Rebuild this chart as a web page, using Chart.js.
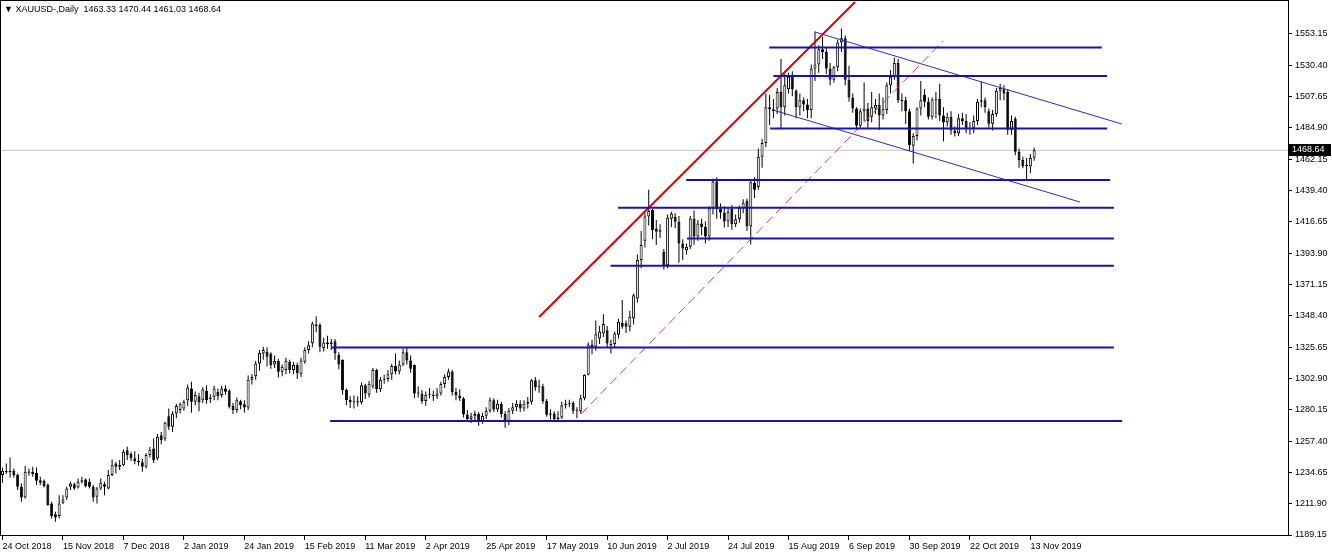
<!DOCTYPE html>
<html><head><meta charset="utf-8">
<script src="https://cdn.jsdelivr.net/npm/chart.js@4/dist/chart.umd.min.js"></script>
<style>
html,body{margin:0;padding:0;background:#fff;}
#wrap{position:relative;width:1332px;height:555px;overflow:hidden;}
#hdr{position:absolute;left:4px;top:3px;font:9px "Liberation Sans",Arial,sans-serif;color:#000;white-space:pre;line-height:12px;}
canvas{display:block}
</style></head><body>
<div id="wrap"><canvas id="c" width="1332" height="555"></canvas><div id="hdr">▼ XAUUSD-,Daily  1463.33 1470.44 1461.03 1468.64</div></div>
<script>
// ---------------- data ----------------
const dateLabels = ["24 Oct 2018","15 Nov 2018","7 Dec 2018","2 Jan 2019","24 Jan 2019","15 Feb 2019","11 Mar 2019","2 Apr 2019","25 Apr 2019","17 May 2019","10 Jun 2019","2 Jul 2019","24 Jul 2019","15 Aug 2019","6 Sep 2019","30 Sep 2019","22 Oct 2019","13 Nov 2019"];
const barsPerLabel = 16;
const priceTicks = [1553.15,1530.40,1507.65,1484.90,1462.15,1439.40,1416.65,1393.90,1371.15,1348.40,1325.65,1302.90,1280.15,1257.40,1234.65,1211.90,1189.15];

const openP = [
1232.7,1235.8,1234.8,1235.8,1232.7,1224.2,1216.4,1234.4,1235.1,1234.4,
1229.0,1228.6,1225.4,1212.1,1204.3,1202.9,1212.6,1216.4,1224.2,1226.0,
1223.7,1227.8,1229.5,1227.8,1224.2,1216.9,1223.0,1226.1,1223.0,1232.7,
1241.1,1238.7,1239.9,1250.8,1248.0,1245.0,1243.0,1242.0,1238.7,1247.2,
1252.0,1244.8,1261.7,1259.0,1275.5,1267.8,1277.4,1279.9,1281.0,1287.1,
1295.6,1285.9,1290.0,1287.1,1294.0,1288.0,1289.6,1293.0,1290.8,1295.6,
1293.9,1282.8,1279.9,1286.4,1284.2,1281.8,1302.0,1304.5,1313.8,1321.0,
1322.3,1321.0,1313.0,1315.5,1307.8,1309.0,1315.0,1309.0,1312.6,1306.0,
1315.0,1323.5,1328.4,1342.0,1341.7,1325.0,1329.0,1328.0,1330.0,1320.0,
1316.3,1294.5,1287.2,1285.6,1286.4,1285.5,1298.0,1291.0,1297.0,1309.0,
1295.0,1302.0,1302.5,1306.0,1312.0,1308.0,1313.0,1322.0,1316.0,1312.6,
1292.0,1292.0,1286.5,1291.0,1291.0,1290.0,1292.0,1298.8,1304.0,1308.0,
1293.0,1290.5,1288.4,1276.7,1273.5,1275.5,1277.0,1271.3,1275.8,1279.5,
1287.0,1280.3,1284.5,1277.0,1271.0,1279.5,1282.0,1284.5,1281.0,1284.5,
1286.0,1301.5,1296.5,1297.3,1286.5,1276.5,1277.5,1273.3,1274.5,1283.5,
1284.5,1285.0,1279.5,1279.0,1288.5,1305.5,1327.5,1326.0,1332.0,1335.6,
1338.0,1328.0,1328.0,1334.6,1343.4,1343.0,1340.5,1346.5,1361.0,1388.9,
1403.0,1420.5,1425.2,1411.9,1410.5,1395.0,1385.2,1419.0,1420.4,1416.7,
1401.0,1396.0,1398.6,1419.0,1406.0,1415.5,1413.0,1406.0,1426.5,1446.0,
1426.0,1423.5,1417.0,1426.0,1415.0,1418.5,1426.5,1432.0,1413.5,1445.0,
1442.0,1464.0,1474.0,1500.0,1498.5,1499.0,1511.0,1500.0,1513.0,1522.0,
1512.0,1500.0,1505.0,1502.0,1498.0,1528.0,1531.0,1542.0,1540.0,1528.0,
1520.0,1529.0,1547.0,1550.0,1520.0,1507.0,1499.0,1486.5,1497.0,1499.0,
1493.0,1499.0,1501.5,1494.0,1498.0,1516.0,1522.0,1532.0,1505.0,1505.0,
1497.0,1472.0,1479.0,1499.0,1509.0,1504.0,1493.0,1505.0,1506.0,1494.0,
1489.0,1493.0,1483.0,1481.0,1492.0,1490.0,1484.0,1485.0,1490.0,1504.0,
1505.0,1497.0,1488.0,1495.0,1512.0,1513.0,1511.0,1483.5,1491.5,1467.6,
1461.6,1458.0,1456.8,1463.33];

const highP = [
1238.2,1241.1,1245.5,1237.5,1233.9,1226.6,1239.2,1237.5,1238.7,1238.2,
1231.5,1229.5,1226.6,1213.3,1206.0,1218.1,1218.1,1224.2,1227.8,1227.1,
1230.2,1231.5,1230.2,1230.2,1225.4,1224.2,1230.2,1227.8,1236.3,1244.0,
1242.4,1243.6,1251.3,1253.3,1249.6,1250.0,1248.0,1244.5,1248.5,1253.0,
1259.3,1262.5,1264.0,1271.5,1281.1,1279.0,1284.5,1285.5,1287.5,1298.5,
1300.5,1293.5,1292.5,1296.5,1298.0,1291.5,1297.5,1295.5,1297.5,1298.0,
1295.0,1285.0,1289.0,1287.5,1287.1,1305.0,1306.0,1315.5,1323.5,1326.0,
1325.5,1322.0,1319.5,1317.0,1313.0,1318.0,1316.5,1315.0,1314.5,1318.0,
1325.5,1330.0,1344.0,1348.0,1343.0,1332.5,1334.0,1331.5,1331.5,1322.0,
1316.8,1295.5,1290.0,1290.5,1290.0,1300.0,1299.0,1301.0,1310.5,1310.0,
1304.0,1305.5,1309.0,1313.5,1321.0,1316.0,1324.5,1325.0,1319.5,1313.0,
1297.0,1294.5,1293.5,1296.0,1294.0,1296.0,1300.5,1306.0,1310.0,1309.0,
1296.0,1295.0,1289.5,1280.0,1278.0,1279.5,1278.5,1278.0,1282.0,1289.0,
1288.5,1287.5,1286.0,1279.0,1281.5,1285.0,1287.0,1287.0,1287.0,1289.5,
1302.5,1304.0,1302.0,1299.0,1288.0,1280.5,1279.0,1279.0,1286.0,1287.5,
1287.5,1286.5,1282.0,1291.0,1306.0,1329.0,1331.0,1345.0,1341.0,1349.6,
1341.0,1331.0,1337.0,1346.0,1359.8,1345.0,1352.0,1364.6,1393.0,1410.0,
1423.0,1440.0,1426.0,1418.0,1415.0,1397.0,1422.0,1424.0,1423.0,1421.0,
1404.0,1401.0,1421.0,1425.0,1418.0,1419.0,1417.0,1428.0,1448.0,1449.0,
1430.0,1428.0,1427.0,1429.0,1422.0,1428.5,1433.0,1433.5,1447.5,1449.0,
1470.0,1477.0,1510.0,1509.0,1506.0,1514.0,1535.0,1524.0,1525.0,1526.0,
1513.0,1510.0,1507.0,1506.0,1531.0,1555.0,1545.0,1551.0,1543.0,1532.0,
1530.0,1549.0,1557.2,1552.0,1530.0,1510.0,1500.0,1499.0,1518.0,1503.0,
1511.0,1506.0,1510.0,1507.0,1518.0,1527.0,1536.0,1535.0,1510.0,1507.5,
1499.0,1481.0,1500.0,1519.0,1513.0,1507.0,1507.0,1511.0,1517.0,1500.0,
1496.0,1497.0,1486.0,1495.0,1496.0,1495.0,1489.0,1494.0,1506.0,1518.5,
1507.0,1499.0,1498.0,1514.0,1517.0,1516.0,1513.0,1494.0,1493.0,1470.0,
1464.0,1463.0,1466.0,1470.44];

const lowP = [
1227.1,1233.4,1231.0,1231.0,1221.8,1213.3,1215.7,1232.2,1231.5,1225.4,
1225.4,1223.7,1210.4,1201.2,1198.8,1201.2,1211.6,1214.5,1221.8,1221.8,
1223.0,1226.6,1223.7,1223.0,1213.3,1212.1,1221.8,1218.1,1222.2,1232.0,
1233.9,1236.3,1239.2,1243.6,1243.0,1240.5,1239.5,1235.1,1237.5,1245.5,
1241.5,1243.5,1255.0,1257.5,1265.5,1264.0,1274.0,1277.5,1279.5,1283.0,
1277.9,1283.5,1279.0,1285.0,1284.5,1285.0,1287.0,1287.0,1289.0,1291.0,
1281.0,1277.0,1278.0,1280.5,1277.9,1280.0,1298.5,1302.0,1308.5,1316.5,
1311.5,1310.0,1310.5,1303.5,1304.5,1306.0,1306.5,1306.0,1302.5,1304.0,
1313.5,1321.0,1325.5,1336.5,1322.0,1322.5,1324.5,1323.5,1316.5,1309.5,
1291.0,1283.5,1281.5,1281.0,1282.5,1284.0,1288.0,1289.0,1295.5,1292.5,
1293.0,1299.0,1300.5,1302.0,1306.0,1306.0,1312.0,1313.0,1307.0,1288.5,
1289.0,1284.5,1283.0,1288.5,1286.5,1288.0,1290.5,1296.0,1302.0,1290.5,
1287.0,1286.5,1274.5,1271.5,1270.5,1271.5,1268.5,1270.0,1273.5,1278.0,
1278.5,1278.5,1274.5,1267.0,1269.0,1277.0,1279.0,1278.5,1279.0,1281.0,
1284.0,1294.0,1292.5,1284.5,1275.0,1273.0,1271.5,1272.0,1273.5,1281.0,
1282.0,1277.0,1274.0,1277.5,1287.0,1305.0,1320.5,1323.0,1328.0,1333.0,
1325.0,1321.0,1325.0,1332.0,1339.0,1336.0,1337.0,1342.0,1358.0,1383.0,
1398.0,1414.0,1404.0,1399.8,1405.0,1382.0,1383.0,1413.0,1412.0,1387.0,
1388.9,1393.0,1397.0,1400.0,1403.0,1407.0,1401.0,1403.0,1422.0,1419.0,
1419.0,1412.5,1413.0,1411.0,1413.0,1416.0,1423.0,1410.0,1400.3,1434.0,
1440.0,1456.0,1471.0,1487.0,1492.0,1495.0,1484.0,1494.0,1510.0,1508.0,
1492.0,1494.0,1497.0,1492.0,1492.0,1519.0,1525.0,1535.0,1524.0,1516.0,
1518.0,1526.0,1540.0,1516.0,1504.0,1496.0,1484.0,1485.0,1490.0,1484.0,
1489.0,1495.0,1483.4,1491.0,1495.0,1510.0,1520.0,1503.0,1497.0,1488.0,
1468.0,1459.0,1476.0,1494.0,1500.0,1491.0,1491.0,1492.0,1490.0,1475.0,
1486.0,1480.0,1478.6,1479.0,1487.0,1481.0,1480.0,1481.0,1487.0,1500.0,
1496.0,1485.0,1483.0,1493.0,1505.0,1505.0,1480.0,1480.0,1465.0,1456.0,
1455.6,1447.6,1452.0,1461.03];

const closeP = [
1235.8,1234.8,1235.8,1232.7,1224.2,1216.4,1235.1,1235.3,1233.4,1228.6,
1227.1,1224.7,1210.9,1202.9,1201.9,1212.1,1215.0,1223.0,1226.6,1223.0,
1227.8,1229.0,1224.7,1224.2,1216.4,1223.0,1227.1,1224.2,1232.7,1239.9,
1238.7,1240.0,1249.6,1247.2,1245.0,1243.0,1242.0,1238.7,1247.2,1251.0,
1243.5,1260.5,1258.1,1270.7,1267.8,1277.4,1282.8,1284.2,1285.9,1296.3,
1285.9,1290.8,1285.5,1294.9,1287.1,1289.0,1295.6,1290.0,1295.6,1293.2,
1282.3,1279.9,1287.1,1283.5,1281.8,1302.0,1304.0,1313.8,1321.5,1323.5,
1318.7,1312.6,1315.5,1307.8,1311.4,1315.7,1309.0,1312.6,1306.6,1316.0,
1323.5,1327.0,1342.9,1341.0,1326.0,1329.0,1328.0,1329.0,1321.0,1313.0,
1294.5,1287.2,1285.6,1286.4,1285.5,1298.0,1292.0,1299.0,1309.0,1295.0,
1302.0,1302.5,1306.0,1312.0,1308.0,1313.0,1322.0,1316.0,1310.0,1292.0,
1292.7,1286.5,1291.0,1291.5,1290.0,1292.0,1298.8,1304.0,1308.0,1293.0,
1290.5,1288.4,1276.7,1273.5,1275.5,1277.0,1271.3,1275.8,1279.5,1287.0,
1280.3,1284.5,1277.0,1271.0,1279.5,1282.0,1284.5,1281.0,1284.5,1286.0,
1301.5,1296.5,1297.3,1286.5,1276.5,1277.5,1273.3,1274.5,1283.5,1284.5,
1285.0,1279.5,1279.0,1288.5,1305.5,1327.5,1325.5,1335.0,1337.0,1342.4,
1328.3,1327.0,1335.6,1344.1,1340.5,1340.5,1347.7,1363.4,1388.9,1399.8,
1420.5,1424.5,1410.7,1409.5,1409.5,1385.2,1419.9,1422.8,1416.7,1401.0,
1397.3,1398.6,1419.1,1406.0,1415.5,1413.0,1406.0,1426.5,1446.0,1426.0,
1423.5,1417.0,1424.0,1415.0,1418.5,1427.0,1430.5,1413.5,1445.5,1440.0,
1464.0,1474.0,1500.0,1498.5,1497.0,1511.0,1500.0,1516.0,1522.0,1513.0,
1500.0,1505.0,1502.0,1498.0,1528.0,1531.0,1542.0,1540.0,1528.0,1520.0,
1529.0,1547.0,1550.0,1520.0,1507.0,1499.0,1486.5,1497.0,1499.0,1490.0,
1500.0,1501.5,1494.0,1498.5,1516.0,1522.0,1532.0,1505.0,1504.5,1497.0,
1472.5,1479.0,1499.0,1505.0,1504.0,1493.0,1505.5,1505.5,1494.0,1489.0,
1493.0,1483.0,1481.0,1492.0,1490.0,1484.0,1485.0,1490.0,1504.0,1505.0,
1500.0,1488.0,1495.0,1512.0,1514.0,1510.0,1483.5,1490.0,1467.6,1461.6,
1457.0,1457.0,1463.3,1468.64];

// horizontal levels: price, first bar, last bar
const levelPrice = [1543.34,1522.63,1484.49,1447.07,1426.95,1404.57,1384.81,1325.38,1271.97];
const levelFrom  = [202.9,204.0,203.1,180.9,162.9,181.1,160.9,87.1,86.7];
const levelTo    = [290.9,292.3,292.3,293.1,294.1,294.1,294.1,294.1,296.3];
// trend lines: [bar1, price1, bar2, price2]
const redTrend   = [142.0,1347.54,225.6,1576.40];
const redDashed  = [153.1,1277.06,248.9,1548.06];
const chanUpper  = [215.0,1554.60,296.2,1487.76];
const chanLower  = [203.9,1497.93,285.1,1431.09];

// ---------------- layout constants ----------------
const BAR_PX = 3.779;                 // pixels per bar
const AREA_LEFT = 1, AREA_RIGHT = 1288, AREA_TOP = 1, AREA_BOTTOM = 535;
const X_MIN = -1.5 / BAR_PX;
const X_MAX = X_MIN + (AREA_RIGHT - AREA_LEFT) / BAR_PX;
const PX_PER_PRICE = 501 / 364;
const Y_MIN = priceTicks[priceTicks.length - 1];
const Y_MAX = priceTicks[0] + (34 - AREA_TOP) / PX_PER_PRICE;
const lastPrice = closeP[closeP.length - 1];

Chart.defaults.font.family = "'Liberation Sans', Arial, sans-serif";
Chart.defaults.font.size = 9;
Chart.defaults.color = '#000';

const idx = closeP.map((_, i) => i);
const wicks = idx.map(i => ({ x: i, y: [lowP[i], highP[i]] }));
const bodies = idx.map(i => ({ x: i, y: [openP[i], closeP[i]] }));
const bodyFill = idx.map(i => closeP[i] >= openP[i] ? '#ffffff' : '#000000');

function seg(p, color, width, dash) {
  return { type: 'line', data: [{ x: p[0], y: p[1] }, { x: p[2], y: p[3] }],
    borderColor: color, borderWidth: width, borderDash: dash || [],
    pointRadius: 0, fill: false, tension: 0, order: 0 };
}
const levelSets = levelPrice.map((p, k) => seg([levelFrom[k], p, levelTo[k], p], '#1414b4', 2));

const framePlugin = {
  id: 'frame',
  afterDraw(chart) {
    const { ctx, chartArea: a, scales: { y } } = chart;
    ctx.save();
    ctx.strokeStyle = '#000';
    ctx.lineWidth = 1;
    ctx.strokeRect(a.left - 0.5, a.top - 0.5, a.right - a.left + 1, a.bottom - a.top + 1);
    const py = Math.round(y.getPixelForValue(lastPrice));
    ctx.fillStyle = '#000';
    ctx.fillRect(a.right + 1, py - 6, 42, 12);
    ctx.fillStyle = '#fff';
    ctx.font = "9px 'Liberation Sans', Arial, sans-serif";
    ctx.textBaseline = 'middle';
    ctx.textAlign = 'left';
    ctx.fillText(lastPrice.toFixed(2), a.right + 4, py);
    ctx.restore();
  }
};

new Chart(document.getElementById('c'), {
  type: 'bar',
  data: {
    datasets: [
      ...levelSets,
      seg(redTrend, '#e00000', 2),
      seg(redDashed, '#e04040', 1, [9, 5]),
      seg(chanUpper, '#2a2ad2', 1),
      seg(chanLower, '#2a2ad2', 1),
      { type: 'bar', data: bodies, backgroundColor: bodyFill, borderColor: '#000', borderWidth: 1,
        borderSkipped: false, barThickness: 3, grouped: false, minBarLength: 1, order: 1, inflateAmount: 0 },
      { type: 'bar', data: wicks, backgroundColor: '#000', borderWidth: 0, barThickness: 1,
        grouped: false, order: 2, inflateAmount: 0 },
      { type: 'line', data: [{ x: X_MIN, y: lastPrice }, { x: X_MAX, y: lastPrice }],
        borderColor: '#c4c4c4', borderWidth: 1, pointRadius: 0, fill: false, order: 3 }
    ]
  },
  options: {
    responsive: false, animation: false, events: [],
    layout: { padding: { left: AREA_LEFT, top: AREA_TOP, right: 0, bottom: 0 } },
    plugins: { legend: { display: false }, tooltip: { enabled: false }, title: { display: false } },
    scales: {
      x: {
        type: 'linear', position: 'bottom', min: X_MIN, max: X_MAX, offset: false,
        grid: { display: true, drawOnChartArea: false, drawTicks: true, tickLength: 5, color: '#000', offset: false },
        border: { display: false },
        ticks: { autoSkip: false, maxRotation: 0, minRotation: 0, align: 'start', padding: 1,
          callback: (v) => dateLabels[Math.round(v / barsPerLabel)] },
        afterBuildTicks: (s) => { s.ticks = dateLabels.map((_, k) => ({ value: k * barsPerLabel })); },
        afterFit: (s) => { s.height = 555 - AREA_BOTTOM; s.paddingLeft = 0; s.paddingRight = 0; }
      },
      y: {
        type: 'linear', position: 'right', min: Y_MIN, max: Y_MAX,
        grid: { display: true, drawOnChartArea: false, drawTicks: true, tickLength: 4, color: '#000' },
        border: { display: false },
        ticks: { padding: 3, callback: (v) => Number(v).toFixed(2) },
        afterBuildTicks: (s) => { s.ticks = priceTicks.map(v => ({ value: v })); },
        afterFit: (s) => { s.width = 1332 - AREA_RIGHT; s.paddingTop = 0; s.paddingBottom = 0; }
      }
    }
  },
  plugins: [framePlugin]
});
</script>
</body></html>
